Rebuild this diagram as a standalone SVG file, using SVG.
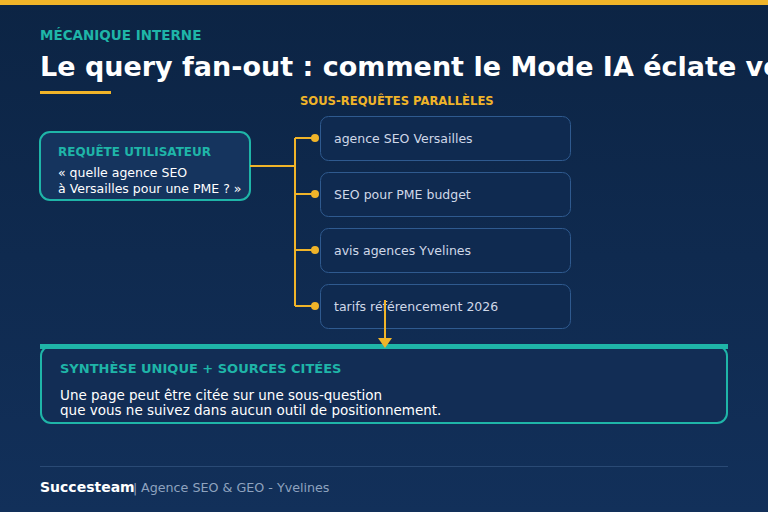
<svg xmlns="http://www.w3.org/2000/svg" width="768" height="512" viewBox="0 0 768 512">
<defs>
<linearGradient id="bg" x1="0" y1="0" x2="0" y2="1">
<stop offset="0" stop-color="#0c2444"/>
<stop offset="1" stop-color="#12305a"/>
</linearGradient>
<style>
text{font-family:"DejaVu Sans",Verdana,sans-serif}
.kick{fill:#1fb5a8;font-weight:bold}
.sub{fill:#0f2a50;stroke:#2f5a8f;stroke-width:1}
.subt{fill:#cfd8e8;font-size:12.5px}
.wire{fill:none;stroke:#f0b429;stroke-width:2}
.dot{fill:#f0b429}
</style>
</defs>
<rect width="768" height="512" fill="url(#bg)"/>
<rect width="768" height="5" fill="#f0b429"/>
<text x="40" y="40" class="kick" font-size="13.5">MÉCANIQUE INTERNE</text>
<text x="40" y="76" fill="#ffffff" font-size="27" font-weight="bold">Le query fan-out : comment le Mode IA éclate vos requêtes</text>
<rect x="40" y="91" width="71" height="3" fill="#f0b429"/>
<text x="300" y="105" fill="#f0b429" font-size="11.6" font-weight="bold">SOUS-REQUÊTES PARALLÈLES</text>

<g id="user-query">
<rect x="40" y="132" width="210" height="68" rx="10" fill="#15345e" stroke="#1fb5a8" stroke-width="2"/>
<text x="58" y="156" class="kick" font-size="12">REQUÊTE UTILISATEUR</text>
<text x="58" y="177" fill="#ffffff" font-size="12.5">« quelle agence SEO</text>
<text x="58" y="193" fill="#ffffff" font-size="12.5">à Versailles pour une PME ? »</text>
</g>

<g id="sub1">
<rect class="sub" x="320.5" y="116.5" width="250" height="44" rx="8"/>
<text class="subt" x="334" y="143">agence SEO Versailles</text>
</g>
<g id="sub2">
<rect class="sub" x="320.5" y="172.5" width="250" height="44" rx="8"/>
<text class="subt" x="334" y="199">SEO pour PME budget</text>
</g>
<g id="sub3">
<rect class="sub" x="320.5" y="228.5" width="250" height="44" rx="8"/>
<text class="subt" x="334" y="255">avis agences Yvelines</text>
</g>
<g id="sub4">
<rect class="sub" x="320.5" y="284.5" width="250" height="44" rx="8"/>
<text class="subt" x="334" y="311">tarifs référencement 2026</text>
</g>

<g id="synthesis">
<rect x="41" y="346" width="686" height="77" rx="10" fill="#122d55" stroke="#1fb5a8" stroke-width="2"/>
<rect x="40" y="344" width="688" height="5" fill="#1fb5a8"/>
<text x="60" y="373" class="kick" font-size="13">SYNTHÈSE UNIQUE + SOURCES CITÉES</text>
<text x="60" y="400" fill="#ffffff" font-size="13.5">Une page peut être citée sur une sous-question</text>
<text x="60" y="415" fill="#ffffff" font-size="13.5">que vous ne suivez dans aucun outil de positionnement.</text>
</g>

<g id="connectors">
<path class="wire" d="M250,166 H295 M295,138 V306 M295,138 H316 M295,194 H316 M295,250 H316 M295,306 H316"/>
<circle class="dot" cx="315" cy="138" r="4"/>
<circle class="dot" cx="315" cy="194" r="4"/>
<circle class="dot" cx="315" cy="250" r="4"/>
<circle class="dot" cx="315" cy="306" r="4"/>
<line class="wire" x1="385" y1="300" x2="385" y2="339"/>
<polygon points="378,338 392,338 385,348" fill="#f0b429"/>
</g>

<line x1="40" y1="466.5" x2="728" y2="466.5" stroke="#2a4a75" stroke-width="1"/>
<text x="40" y="492" fill="#ffffff" font-size="14" font-weight="bold">Succesteam</text>
<text x="133" y="492" fill="#8fa3bf" font-size="12.7">|</text>
<text x="141" y="492" fill="#8fa3bf" font-size="12.7">Agence SEO &amp; GEO - Yvelines</text>
</svg>
